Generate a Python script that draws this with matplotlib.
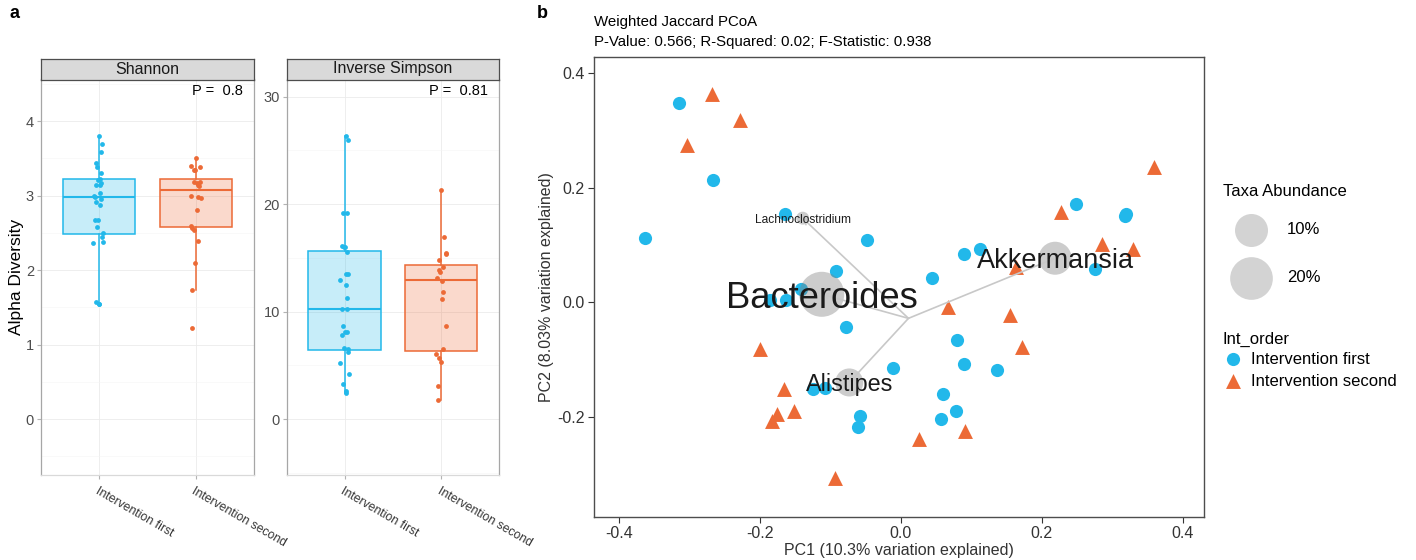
import numpy as np
import matplotlib
matplotlib.use('Agg')
import matplotlib.pyplot as plt
from matplotlib.colors import to_rgba

plt.rcParams['font.family'] = ['Liberation Sans', 'DejaVu Sans']

W, H = 1416, 560  # figure size in pixels (dpi 100)

groups = ['Intervention first', 'Intervention second']
COL_FIRST = '#22B8EA'
COL_SECOND = '#EC6A36'

# ---- panel a: Shannon ----
shannon_first = [3.80, 3.69, 3.58, 3.44, 3.38, 3.31, 3.22, 3.21, 3.17, 3.15, 3.14, 3.03, 2.99, 2.98,
                 2.96, 2.92, 2.88, 2.68, 2.68, 2.58, 2.50, 2.44, 2.38, 2.37, 1.57, 1.55, 1.55]
shannon_first_jit = [0.00, 0.03, 0.02, -0.03, -0.02, 0.02, 0.01, -0.01, 0.02, -0.03, 0.01, 0.01, -0.05, -0.04,
                     0.02, -0.03, 0.01, -0.01, -0.04, -0.02, 0.04, 0.03, 0.04, -0.06, -0.03, 0.00, 0.00]
shannon_second = [3.50, 3.40, 3.39, 3.35, 3.34, 3.18, 3.18, 3.17, 3.14, 3.13, 3.00, 2.98, 2.97, 2.81,
                  2.59, 2.56, 2.54, 2.39, 2.10, 1.74, 1.22]
shannon_second_jit = [0.00, -0.05, 0.04, -0.02, -0.01, -0.02, 0.04, 0.01, 0.02, 0.03, -0.05, 0.02, 0.05, 0.01,
                      -0.05, -0.04, -0.02, 0.02, -0.01, -0.04, -0.04]
shannon_q1 = [2.49, 2.58]
shannon_med = [2.98, 3.07]
shannon_q3 = [3.23, 3.23]
shannon_lo = [1.55, 1.74]
shannon_hi = [3.80, 3.50]

# ---- panel a: Inverse Simpson ----
invsimp_first = [26.34, 25.97, 19.21, 19.14, 16.13, 16.04, 16.01, 15.58, 13.50, 13.47, 12.94, 12.44, 11.26, 10.27,
                 10.21, 8.69, 8.13, 8.10, 7.79, 6.64, 6.48, 6.24, 5.18, 4.16, 3.23, 2.64, 2.45]
invsimp_first_jit = [0.01, 0.04, 0.03, -0.02, -0.03, -0.01, 0.00, 0.03, 0.01, 0.04, -0.05, 0.01, 0.02, -0.03,
                     0.02, -0.02, 0.03, 0.00, -0.03, -0.01, 0.04, 0.04, -0.05, 0.05, -0.02, 0.01, 0.01]
invsimp_second = [21.32, 16.91, 15.48, 15.33, 14.83, 14.15, 13.84, 13.65, 13.12, 12.81, 11.82, 11.20, 8.69,
                  6.48, 6.02, 5.65, 5.34, 3.04, 1.77]
invsimp_second_jit = [0.00, 0.03, 0.05, 0.05, -0.02, 0.02, -0.02, -0.01, -0.04, 0.01, 0.02, 0.01, 0.05,
                      0.02, -0.05, -0.02, 0.00, -0.03, -0.03]
invsimp_q1 = [6.42, 6.36]
invsimp_med = [10.24, 12.94]
invsimp_q3 = [15.64, 14.30]
invsimp_lo = [2.45, 1.77]
invsimp_hi = [26.34, 21.32]

# ---- panel b: PCoA ----
pc1_first = [-0.315, -0.266, -0.362, -0.164, -0.048, -0.092, -0.142, -0.185, -0.162, -0.077, -0.124, -0.107,
             -0.058, -0.060, 0.248, 0.319, 0.318, 0.090, 0.112, 0.276, 0.045, 0.080, 0.090, 0.136, -0.011,
             0.060, 0.079, 0.057]
pc2_first = [0.349, 0.213, 0.113, 0.154, 0.109, 0.054, 0.024, 0.004, 0.004, -0.043, -0.152, -0.149,
             -0.199, -0.217, 0.171, 0.155, 0.151, 0.084, 0.094, 0.059, 0.042, -0.065, -0.107, -0.118, -0.115,
             -0.161, -0.190, -0.203]
pc1_second = [-0.268, -0.228, -0.303, -0.200, -0.165, -0.152, -0.175, -0.183, -0.093, 0.359, 0.227, 0.285,
              0.330, 0.164, 0.067, 0.155, 0.172, 0.026, 0.091]
pc2_second = [0.364, 0.318, 0.275, -0.082, -0.152, -0.189, -0.195, -0.208, -0.307, 0.236, 0.158, 0.101,
              0.093, 0.062, -0.009, -0.023, -0.078, -0.239, -0.224]

taxa = ['Bacteroides', 'Akkermansia', 'Alistipes', 'Lachnoclostridium']
taxa_pc1 = [-0.112, 0.219, -0.073, -0.139]
taxa_pc2 = [0.014, 0.077, -0.140, 0.147]
taxa_abund = [22.9, 10.0, 6.2, 0.2]  # percent
arrow_origin = (0.011, -0.028)
legend_abund = [10, 20]


def fig_rect(x0, y0, x1, y1):
    """pixel box (top-left origin) -> figure fraction rect"""
    return [x0 / W, 1 - y1 / H, (x1 - x0) / W, (y1 - y0) / H]


def abund_diam_pt(a):
    """circle diameter (points) from taxa abundance, area-like size scale"""
    d_px = 9.6 + 7.40 * np.sqrt(np.asarray(a, dtype=float))
    return d_px * 0.72


def abund_font(a):
    return 6.7 + 4.07 * np.sqrt(a)


def draw_alpha_panel(fig, box, title, first, first_jit, second, second_jit,
                     q1, med, q3, lo, hi, ylim, yticks, pval, ylabel=None):
    x0, y0, x1, y1 = box
    ax = fig.add_axes(fig_rect(x0, y0, x1, y1))
    stats = [dict(q1=q1[i], med=med[i], q3=q3[i], whislo=lo[i], whishi=hi[i], fliers=[])
             for i in range(2)]
    bp = ax.bxp(stats, positions=[1, 2], widths=0.75, patch_artist=True,
                showcaps=False, showfliers=False)
    cols = [COL_FIRST, COL_SECOND]
    for i, c in enumerate(cols):
        bp['boxes'][i].set_facecolor(to_rgba(c, 0.25))
        bp['boxes'][i].set_edgecolor(c)
        bp['boxes'][i].set_linewidth(1.1)
        bp['medians'][i].set_color(c)
        bp['medians'][i].set_linewidth(1.5)
        for w in bp['whiskers'][2 * i:2 * i + 2]:
            w.set_color(c)
            w.set_linewidth(1.1)

    ax.scatter(1 + np.array(first_jit), first, s=12, color=COL_FIRST, lw=0, zorder=4)
    ax.scatter(2 + np.array(second_jit), second, s=12, color=COL_SECOND, lw=0, zorder=4)

    ax.set_xlim(0.4, 2.6)
    ax.set_ylim(*ylim)
    ax.set_xticks([1, 2])
    ax.set_xticklabels(groups, rotation=-30, ha='left', va='top', rotation_mode='anchor',
                       color='#333333')
    ax.set_yticks(yticks)
    step = yticks[1] - yticks[0]
    ax.set_yticks(np.arange(yticks[0] - step / 2, ylim[1], step), minor=True)
    ax.tick_params(axis='both', which='major', length=3, color='#B3B3B3', pad=2)
    ax.tick_params(axis='y', which='major', labelsize=10.5, labelcolor='#4D4D4D')
    ax.tick_params(axis='x', which='major', labelsize=8.8, labelcolor='#333333', pad=4)
    ax.tick_params(axis='y', which='minor', length=0)
    ax.grid(True, which='major', color='#EBEBEB', lw=0.6)
    ax.grid(True, which='minor', axis='y', color='#F5F5F5', lw=0.4)
    ax.set_axisbelow(True)
    for side in ['left', 'right', 'top']:
        ax.spines[side].set_color('#A6A6A6')
    ax.spines['bottom'].set_color('#D9D9D9')
    for sp in ax.spines.values():
        sp.set_linewidth(0.9)

    ax.text(0.948, 0.972, pval, transform=ax.transAxes, ha='right', va='center', fontsize=10.5)

    if ylabel:
        ax.set_ylabel(ylabel, fontsize=12.5)
        ax.yaxis.set_label_coords((16 - x0) / (x1 - x0), 0.5)
        ax.yaxis.label.set_va('center')

    # facet strip
    sax = fig.add_axes(fig_rect(x0, 58.5, x1, y0))
    sax.set_facecolor('#D9D9D9')
    sax.set_xticks([])
    sax.set_yticks([])
    for sp in sax.spines.values():
        sp.set_color('#4D4D4D')
        sp.set_linewidth(0.9)
    sax.text(0.5, 0.5, title, ha='center', va='center', fontsize=11.5, color='#1A1A1A',
             transform=sax.transAxes)
    return ax


def draw_pcoa(fig):
    x0, y0, x1, y1 = 594.3, 57.3, 1204.3, 516.7
    ax = fig.add_axes(fig_rect(x0, y0, x1, y1))

    ax.scatter(pc1_first, pc2_first, s=90, marker='o', color=COL_FIRST, lw=0, zorder=2)
    ax.scatter(pc1_second, pc2_second, s=115, marker='^', color=COL_SECOND, lw=0, zorder=2)

    sizes = abund_diam_pt(taxa_abund) ** 2
    ax.scatter(taxa_pc1, taxa_pc2, s=sizes, color='grey', alpha=0.4, lw=0, zorder=3)
    for tx, ty in zip(taxa_pc1, taxa_pc2):
        ax.annotate('', xy=(tx, ty), xytext=arrow_origin,
                    arrowprops=dict(arrowstyle='->', color='#C8C8C8', lw=1.2,
                                    shrinkA=0, shrinkB=0, mutation_scale=9),
                    zorder=4)
    for name, tx, ty, a in zip(taxa, taxa_pc1, taxa_pc2, taxa_abund):
        ax.text(tx, ty, name, ha='center', va='center_baseline', fontsize=abund_font(a),
                color='#1A1A1A', zorder=5)

    ax.set_xlim(-0.4346, 0.4306)
    ax.set_ylim(-0.3745, 0.428)
    ax.set_xticks([-0.4, -0.2, 0.0, 0.2, 0.4])
    ax.set_yticks([-0.2, 0.0, 0.2, 0.4])
    ax.xaxis.set_major_formatter(plt.FormatStrFormatter('%.1f'))
    ax.yaxis.set_major_formatter(plt.FormatStrFormatter('%.1f'))
    ax.tick_params(axis='both', length=4, color='#333333', labelsize=11.5, labelcolor='#333333', pad=3)
    for sp in ax.spines.values():
        sp.set_color('#4D4D4D')
        sp.set_linewidth(1.0)

    ax.set_xlabel('PC1 (10.3% variation explained)', fontsize=11.5, color='#333333')
    ax.xaxis.set_label_coords(0.5, (y1 - 550) / (y1 - y0))
    ax.xaxis.label.set_va('center')
    ax.set_ylabel('PC2 (8.03% variation explained)', fontsize=11.5, color='#333333')
    ax.yaxis.set_label_coords((546 - x0) / (x1 - x0), 0.5)
    ax.yaxis.label.set_va('center')

    fig.text(x0 / W, 1 - 22 / H, 'Weighted Jaccard PCoA', ha='left', va='center', fontsize=10.8)
    fig.text(x0 / W, 1 - 42 / H, 'P-Value: 0.566; R-Squared: 0.02; F-Statistic: 0.938',
             ha='left', va='center', fontsize=10.8)
    return ax


def draw_legend(fig):
    # overlay axes in pixel coordinates for the legend keys
    lax = fig.add_axes([0, 0, 1, 1], facecolor='none')
    lax.set_xlim(0, W)
    lax.set_ylim(H, 0)
    lax.axis('off')

    lax.text(1223, 192, 'Taxa Abundance', ha='left', va='center', fontsize=12)
    for a, yy in zip(legend_abund, [229.5, 277.5]):
        lax.scatter([1250.7], [yy], s=abund_diam_pt(a) ** 2, color='#D3D3D3', lw=0)
        lax.text(1287, yy, f'{a}%', ha='left', va='center', fontsize=12)

    lax.text(1223, 339, 'Int_order', ha='left', va='center', fontsize=12)
    lax.scatter([1233], [359], s=90, marker='o', color=COL_FIRST, lw=0)
    lax.text(1251, 359, groups[0], ha='left', va='center', fontsize=12)
    lax.scatter([1233], [381], s=115, marker='^', color=COL_SECOND, lw=0)
    lax.text(1251, 381, groups[1], ha='left', va='center', fontsize=12)

    # panel letters
    lax.text(10, 13, 'a', ha='left', va='center', fontsize=13, fontweight='bold')
    lax.text(537, 14, 'b', ha='left', va='center', fontsize=13, fontweight='bold')


def main():
    fig = plt.figure(figsize=(W / 100, H / 100), dpi=100)
    fig.patch.set_facecolor('white')

    draw_alpha_panel(fig, (41, 79.5, 254, 475), 'Shannon',
                     shannon_first, shannon_first_jit, shannon_second, shannon_second_jit,
                     shannon_q1, shannon_med, shannon_q3, shannon_lo, shannon_hi,
                     (-0.75, 4.56), [0, 1, 2, 3, 4], 'P =  0.8', ylabel='Alpha Diversity')
    draw_alpha_panel(fig, (286.7, 79.5, 499, 475), 'Inverse Simpson',
                     invsimp_first, invsimp_first_jit, invsimp_second, invsimp_second_jit,
                     invsimp_q1, invsimp_med, invsimp_q3, invsimp_lo, invsimp_hi,
                     (-5.2, 31.6), [0, 10, 20, 30], 'P =  0.81')
    draw_pcoa(fig)
    draw_legend(fig)

    fig.savefig('out.png', dpi=100)
    plt.close(fig)


if __name__ == '__main__':
    main()
